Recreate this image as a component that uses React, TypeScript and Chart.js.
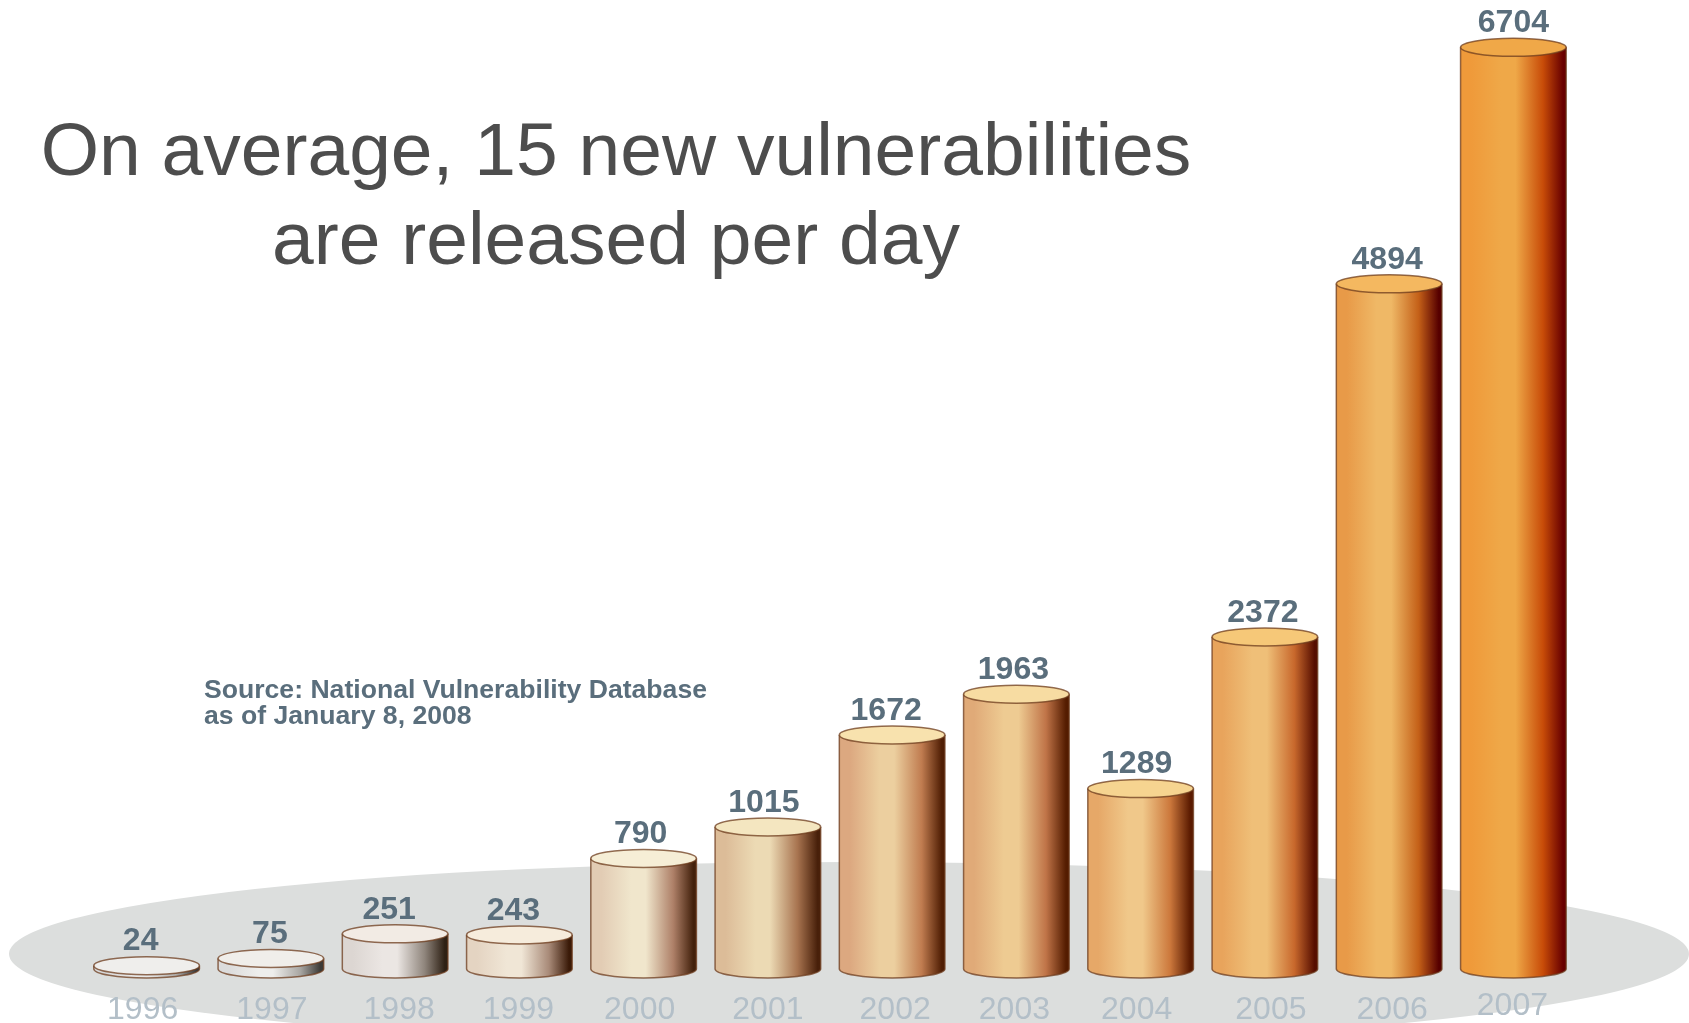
import React, { useEffect, useRef } from "react";
import { Chart, registerables, LinearScale } from "chart.js";

const years = ["1996","1997","1998","1999","2000","2001","2002","2003","2004","2005","2006","2007"];
const vulnerabilities = [24, 75, 251, 243, 790, 1015, 1672, 1963, 1289, 2372, 4894, 6704];

const titleLines = ["On average, 15 new vulnerabilities", "are released per day"];
const sourceLines = ["Source: National Vulnerability Database", "as of January 8, 2008"];

const edgeColors  = ["#d8d8d8","#dcdcdc","#dcd6d2","#e4d4c2","#e2ccb4","#dcbc98","#dca880","#e0aa78","#e6a868","#e8a45c","#e89a48","#ef9a3a"];
const lightColors = ["#e8e8e8","#eeeeec","#ebe6e3","#f0e6d6","#f0e6cc","#ecdab4","#eccf9f","#eecb92","#f0c88a","#efbf78","#efb866","#efa848"];
const midColors   = ["#b0aeac","#a8a6a2","#8f857c","#a88a78","#ae8068","#a87450","#c07c50","#c07448","#cc783c","#c8682c","#c46018","#c84c08"];
const darkColors  = ["#3a3a3a","#3c3a36","#2e2014","#3a1a08","#43210c","#48200a","#501e04","#541c00","#5a1a00","#560e00","#560000","#680000"];
const capColors   = ["#efeeec","#f0eeea","#f2ebe4","#f6ecdc","#f6eed6","#f4e6c0","#f8e2ae","#f7dca2","#f6d490","#f6c878","#f4b860","#f0a848"];

const valueLabelNudgeX = [-6,-1,-6,-6,-3,-4,-6,-3,-4,-2,-2,0];
const tickLabelNudgeX  = [-4,1,4,-1,-4,0,3,-2,-4,6,3,-1];
const tickLabelNudgeY  = [0,0,0,0,0,0,0,0,0,0,0,-4];

const FONT = '"Liberation Sans", Arial, sans-serif';
const TEXT_SLATE = "#5a6e7c";
const CAP_RY = 9;

// The reference's tallest bar is visibly compressed; the axis reproduces that above the knee.
class KneeScale extends LinearScale {
  static id = "kneeLinear";
  static defaults = LinearScale.defaults;
  getPixelForValue(value: number) {
    const knee = 4894, ratio = 0.933;
    const v = value > knee ? knee + (value - knee) * ratio : value;
    return super.getPixelForValue(v);
  }
}
Chart.register(...registerables, KneeScale);

const ground = {
  id: "ground",
  beforeDraw(chart: any) {
    const { ctx } = chart;
    ctx.save();
    ctx.fillStyle = "#dcdedd";
    ctx.beginPath();
    ctx.ellipse(849, 954, 840, 92, 0, 0, Math.PI * 2);
    ctx.fill();
    ctx.restore();
  },
};

const nudgeTicks = {
  id: "nudgeTicks",
  afterUpdate(chart: any) {
    const items = chart.scales.x.getLabelItems(chart.chartArea);
    items.forEach((item: any, i: number) => {
      item.options.translation = [
        item.options.translation[0] + tickLabelNudgeX[i],
        item.options.translation[1] + tickLabelNudgeY[i],
      ];
    });
  },
};

const cylinders = {
  id: "cylinders",
  beforeDatasetsDraw(chart: any) {
    const { ctx } = chart;
    chart.getDatasetMeta(0).data.forEach((bar: any) => {
      ctx.save();
      ctx.fillStyle = bar.options.backgroundColor;
      ctx.strokeStyle = "rgba(110,60,30,0.75)";
      ctx.lineWidth = 1.5;
      ctx.beginPath();
      ctx.ellipse(bar.x, bar.base, bar.width / 2, CAP_RY, 0, 0, Math.PI);
      ctx.closePath();
      ctx.fill();
      ctx.beginPath();
      ctx.ellipse(bar.x, bar.base, bar.width / 2, CAP_RY, 0, 0, Math.PI);
      ctx.stroke();
      ctx.restore();
    });
  },
  afterDatasetsDraw(chart: any) {
    const { ctx } = chart;
    chart.getDatasetMeta(0).data.forEach((bar: any, i: number) => {
      ctx.save();
      ctx.strokeStyle = "rgba(110,60,30,0.75)";
      ctx.lineWidth = 1.5;
      ctx.beginPath();
      ctx.moveTo(bar.x - bar.width / 2, bar.y);
      ctx.lineTo(bar.x - bar.width / 2, bar.base);
      ctx.moveTo(bar.x + bar.width / 2, bar.y);
      ctx.lineTo(bar.x + bar.width / 2, bar.base);
      ctx.stroke();
      ctx.fillStyle = capColors[i];
      ctx.beginPath();
      ctx.ellipse(bar.x, bar.y, bar.width / 2, CAP_RY, 0, 0, Math.PI * 2);
      ctx.fill();
      ctx.stroke();
      ctx.fillStyle = TEXT_SLATE;
      ctx.font = `bold 32px ${FONT}`;
      ctx.textAlign = "center";
      ctx.textBaseline = "middle";
      ctx.fillText(String(vulnerabilities[i]), bar.x + valueLabelNudgeX[i], bar.y - 24);
      ctx.restore();
    });
  },
};

const annotations = {
  id: "annotations",
  afterDraw(chart: any) {
    const { ctx } = chart;
    ctx.save();
    ctx.textBaseline = "alphabetic";
    ctx.fillStyle = "#4d4d4d";
    ctx.font = `75px ${FONT}`;
    ctx.textAlign = "center";
    titleLines.forEach((t, i) => ctx.fillText(t, 616, 175 + i * 89));
    ctx.fillStyle = TEXT_SLATE;
    ctx.font = `bold 26.6px ${FONT}`;
    ctx.textAlign = "left";
    sourceLines.forEach((t, i) => ctx.fillText(t, 204, 698 + i * 26));
    ctx.restore();
  },
};

export default function App() {
  const ref = useRef<HTMLCanvasElement>(null);
  useEffect(() => {
    const chart = new Chart(ref.current as HTMLCanvasElement, {
      type: "bar",
      data: {
        labels: years,
        datasets: [{
          data: vulnerabilities,
          categoryPercentage: 1,
          barPercentage: 0.85,
          borderWidth: 0,
          backgroundColor: (c: any) => {
            const x = c.chart.scales?.x;
            const i = c.dataIndex;
            if (!x || i === undefined) return "#ccc";
            const center = x.getPixelForValue(i);
            if (!Number.isFinite(center)) return "#ccc";
            const half = 52.8;
            const g = c.chart.ctx.createLinearGradient(center - half, 0, center + half, 0);
            g.addColorStop(0, edgeColors[i]);
            g.addColorStop(0.1, edgeColors[i]);
            g.addColorStop(0.38, lightColors[i]);
            g.addColorStop(0.52, lightColors[i]);
            g.addColorStop(0.78, midColors[i]);
            g.addColorStop(0.97, darkColors[i]);
            return g;
          },
        }],
      },
      options: {
        responsive: false,
        animation: false,
        layout: { padding: { left: 84.5, right: 113.5, top: 0, bottom: 0 } },
        plugins: { legend: { display: false }, tooltip: { enabled: false } },
        scales: {
          x: {
            grid: { display: false, drawTicks: false },
            border: { display: false },
            afterFit: (s: any) => { s.height = 54; },
            ticks: {
              autoSkip: false,
              maxRotation: 0,
              padding: 22,
              color: "#b3bfc8",
              font: { family: FONT, size: 32 },
            },
          },
          y: { type: "kneeLinear", display: false, min: 0, max: 6921 },
        },
      } as any,
      plugins: [ground, nudgeTicks, cylinders, annotations],
    });
    return () => chart.destroy();
  }, []);
  return (
    <div style={{ position: "fixed", left: 0, top: 0, width: 1689, height: 1023, background: "#fff" }}>
      <canvas ref={ref} width={1689} height={1023} style={{ display: "block" }} />
    </div>
  );
}
